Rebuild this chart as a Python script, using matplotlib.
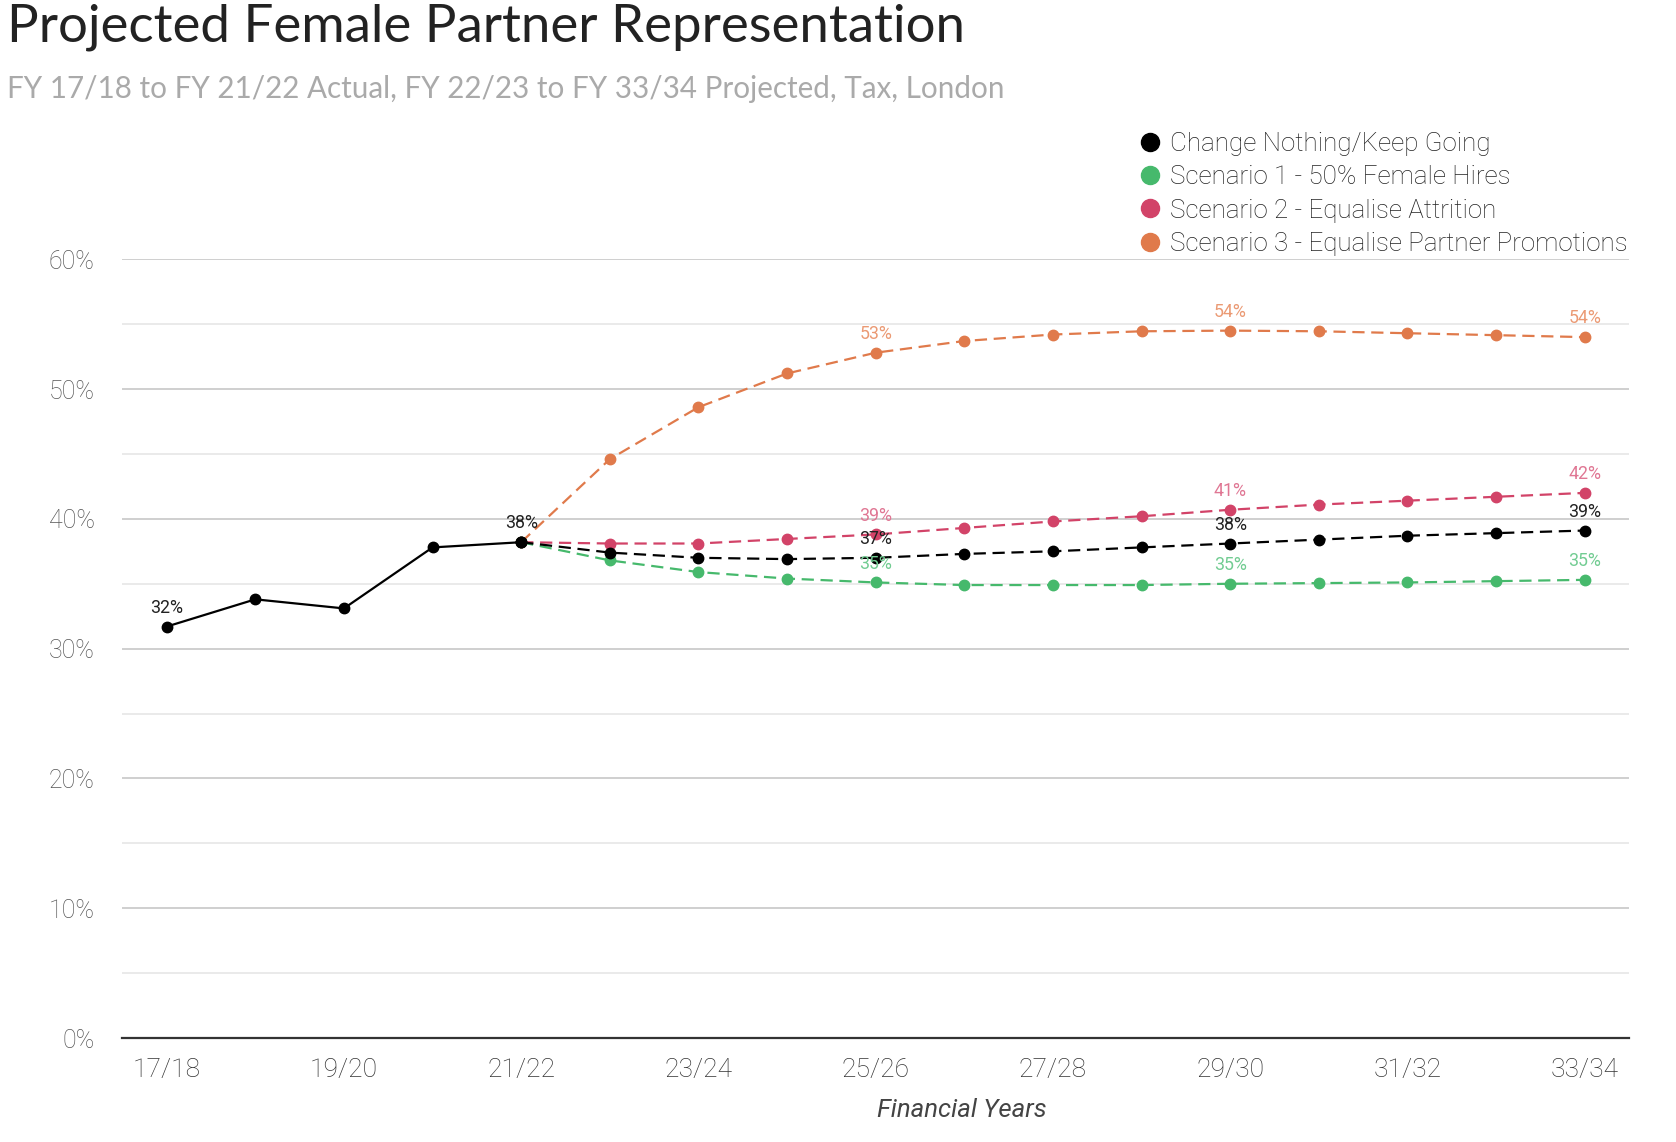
import matplotlib
matplotlib.use("Agg")
import matplotlib.pyplot as plt
from matplotlib.lines import Line2D
from matplotlib.ticker import MultipleLocator, FuncFormatter

years = ["17/18", "18/19", "19/20", "20/21", "21/22", "22/23", "23/24", "24/25",
         "25/26", "26/27", "27/28", "28/29", "29/30", "30/31", "31/32", "32/33", "33/34"]

actual = [31.7, 33.8, 33.1, 37.8, 38.2]
base_proj = [38.2, 37.4, 37.0, 36.9, 37.0, 37.3, 37.5, 37.8, 38.1, 38.4, 38.7, 38.9, 39.1]
s1_proj = [38.2, 36.8, 35.9, 35.4, 35.1, 34.9, 34.9, 34.9, 35.0, 35.05, 35.1, 35.2, 35.3]
s2_proj = [38.2, 38.1, 38.1, 38.45, 38.8, 39.3, 39.8, 40.2, 40.7, 41.1, 41.4, 41.7, 42.0]
s3_proj = [38.2, 44.6, 48.6, 51.2, 52.8, 53.7, 54.2, 54.45, 54.5, 54.45, 54.3, 54.15, 54.0]

series_names = ["Change Nothing/Keep Going", "Scenario 1 - 50% Female Hires",
                "Scenario 2 - Equalise Attrition", "Scenario 3 - Equalise Partner Promotions"]
colors = ["#000000", "#46b96c", "#d24368", "#e07a4b"]
label_colors = ["#222222", "#72cc92", "#e07794", "#eb9a74"]
label_idx = [8, 12, 16]

FONT = "Roboto"

fig = plt.figure(figsize=(16.76, 11.42), dpi=100)
ax = fig.add_axes([0.073, 0.091, 0.899, 0.682])

x_all = list(range(len(years)))
x_act = x_all[:len(actual)]
x_proj = x_all[len(actual) - 1:]

projs = [base_proj, s1_proj, s2_proj, s3_proj]
order = [3, 2, 1, 0]
for i in order:
    ax.plot(x_proj, projs[i], color=colors[i], lw=1.6, ls=(0, (5.5, 3)),
            marker="o", ms=7.5, zorder=3 + (1 if i == 0 else 0))
ax.plot(x_act, actual, color=colors[0], lw=1.6, marker="o", ms=7.5, zorder=5)

def lab(x, y, c):
    ax.annotate(f"{round(y):.0f}%", (x, y), xytext=(0, 7), textcoords="offset points",
                ha="center", va="bottom", fontsize=12.8, color=c, family=FONT,
                fontweight="normal", zorder=6)

lab(0, actual[0], label_colors[0])
lab(4, actual[4], label_colors[0])
for i in range(4):
    for k in label_idx:
        lab(k, projs[i][k - 4], label_colors[i])

ax.set_xlim(-0.5, 16.5)
ax.set_ylim(0, 60)
ax.yaxis.set_major_locator(MultipleLocator(10))
ax.yaxis.set_minor_locator(MultipleLocator(5))
ax.yaxis.set_major_formatter(FuncFormatter(lambda v, p: f"{v:.0f}%"))
ax.grid(axis="y", which="major", color="#cccccc", lw=1.3)
ax.grid(axis="y", which="minor", color="#e8e8e8", lw=1.3)
ax.set_axisbelow(True)
ax.set_xticks(x_all[::2])
ax.set_xticklabels(years[::2])
for s in ["top", "right", "left"]:
    ax.spines[s].set_visible(False)
ax.spines["bottom"].set_color("#333333")
ax.spines["bottom"].set_linewidth(1.6)
ax.tick_params(axis="both", which="both", length=0, labelsize=18, labelcolor="#555555")
ax.tick_params(axis="x", pad=14, labelcolor="#333333", labelsize=19)
ax.tick_params(axis="y", pad=20)
for t in ax.get_xticklabels() + ax.get_yticklabels():
    t.set_family(FONT)
    t.set_fontweight("light")
ax.set_xlabel("Financial Years", fontsize=18.5, style="italic", family=FONT,
              color="#444444", labelpad=11)
ax.xaxis.set_label_coords(0.557, -0.077)

fig.text(0.004, 0.976, "Projected Female Partner Representation", fontsize=38,
         family="Lato", color="#222222", va="center", ha="left")
fig.text(0.004, 0.922, "FY 17/18 to FY 21/22 Actual, FY 22/23 to FY 33/34 Projected, Tax, London",
         fontsize=21.3, family="Lato", color="#aaaaaa", va="center", ha="left")

handles = [Line2D([], [], ls="none", marker="o", ms=13, color=c) for c in colors]
leg = fig.legend(handles, series_names, loc="upper right", bbox_to_anchor=(0.985, 0.905),
                 frameon=False, handlelength=0.6, handletextpad=0.45, labelspacing=0.36,
                 prop={"family": FONT, "size": 18.7, "weight": "light"})
for t in leg.get_texts():
    t.set_color("#222222")

fig.savefig("out.png", dpi=100)
